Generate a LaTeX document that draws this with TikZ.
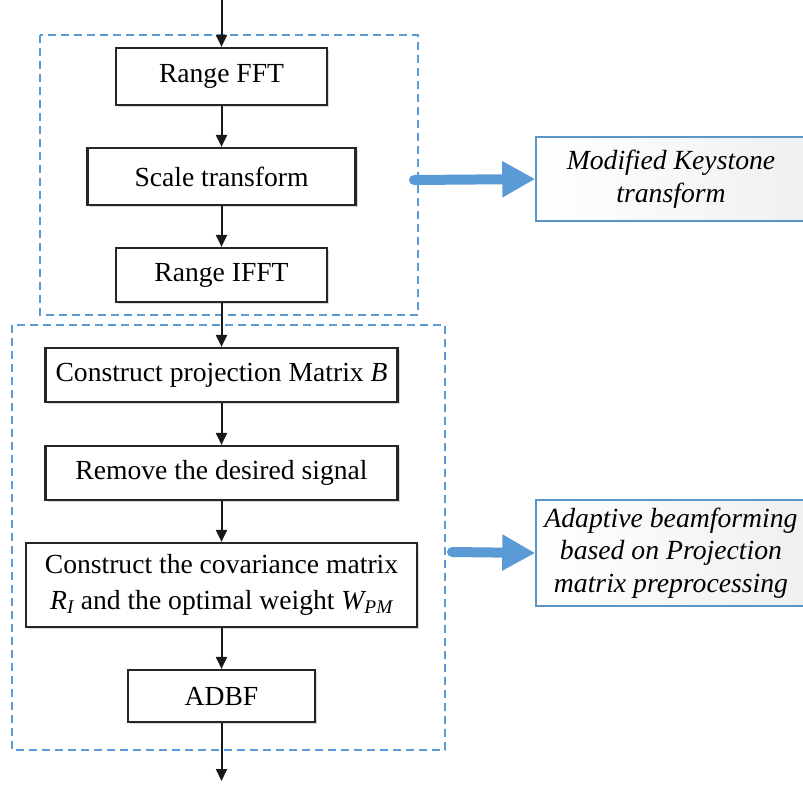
\documentclass[tikz,border=0pt]{standalone}
\usepackage{fontspec}
\setmainfont{Liberation Serif}
\usetikzlibrary{arrows.meta,shadows}
\definecolor{dblue}{HTML}{5B9BD5}
\definecolor{bblue}{HTML}{5A96C8}
\tikzset{
  stepbox/.style={draw=black!85, line width=2.2pt, fill=white, minimum height=55pt, align=center, font=\fontsize{27.6}{35}\selectfont, inner sep=0pt,
    drop shadow={shadow xshift=2pt, shadow yshift=-2pt, opacity=0.25, fill=black!60}},
  flow/.style={draw=black!90, line width=2pt, -{Triangle[length=12pt,width=11pt]}},
  group/.style={draw=dblue, line width=1.6pt, dash pattern=on 8pt off 5pt},
  note/.style={draw=bblue, line width=1.5pt, left color=white, right color=gray!12, align=center,
    font=\fontsize{27.7}{32.5}\selectfont\itshape, inner sep=0pt},
  bigarrow/.style={draw=dblue, line width=10pt, line cap=round, -{Triangle[length=33pt,width=34pt]}}
}
\begin{document}
\begin{tikzpicture}[x=1pt,y=-1pt]
\useasboundingbox (0,0) rectangle (803,785);
% dashed groups
\draw[group] (40,35) rectangle (418,315);
\draw[group] (12,325) rectangle (445,750);
% boxes
\node[stepbox, minimum width=211pt, minimum height=57pt] (fft) at (221.5,76.5) {Range FFT};
\node[stepbox, minimum width=268pt, minimum height=57pt] (scale) at (221.5,176.5) {Scale transform};
\node[stepbox, minimum width=211pt, minimum height=54pt] (ifft) at (221.5,275) {Range IFFT};
\node[stepbox, minimum width=352pt, minimum height=54pt] (proj) at (221.5,375) {Construct projection Matrix \textit{B}};
\node[stepbox, minimum width=352pt, minimum height=54pt] (remove) at (221.5,473) {Remove the desired signal};
\node[stepbox, minimum width=391pt, minimum height=84pt] (cov) at (221.5,585) {Construct the covariance matrix\\[1pt]\textit{R\textsubscript{I}} and the optimal weight \textit{W\textsubscript{PM}}};
\node[stepbox, minimum width=187pt, minimum height=52pt] (adbf) at (221.5,696) {ADBF};
% flow
\coordinate (in) at (221.5,0);
\coordinate (out) at (221.5,781);
\draw[flow] (in) -- (fft);
\draw[flow] (fft) -- (scale);
\draw[flow] (scale) -- (ifft);
\draw[flow] (ifft) -- (proj);
\draw[flow] (proj) -- (remove);
\draw[flow] (remove) -- (cov);
\draw[flow] (cov) -- (adbf);
\draw[flow] (adbf) -- (out);
% notes
\node[note, minimum width=270pt, minimum height=84pt] (mk) at (671,179) {Modified Keystone\\transform};
\node[note, minimum width=270pt, minimum height=106pt] (ab) at (671,553) {Adaptive beamforming\\based on Projection\\matrix preprocessing};
\coordinate (a1) at (414,180);
\coordinate (a2) at (452,552);
\draw[bigarrow] (a1) -- (mk.west);
\draw[bigarrow] (a2) -- (ab.west);
\end{tikzpicture}
\end{document}
